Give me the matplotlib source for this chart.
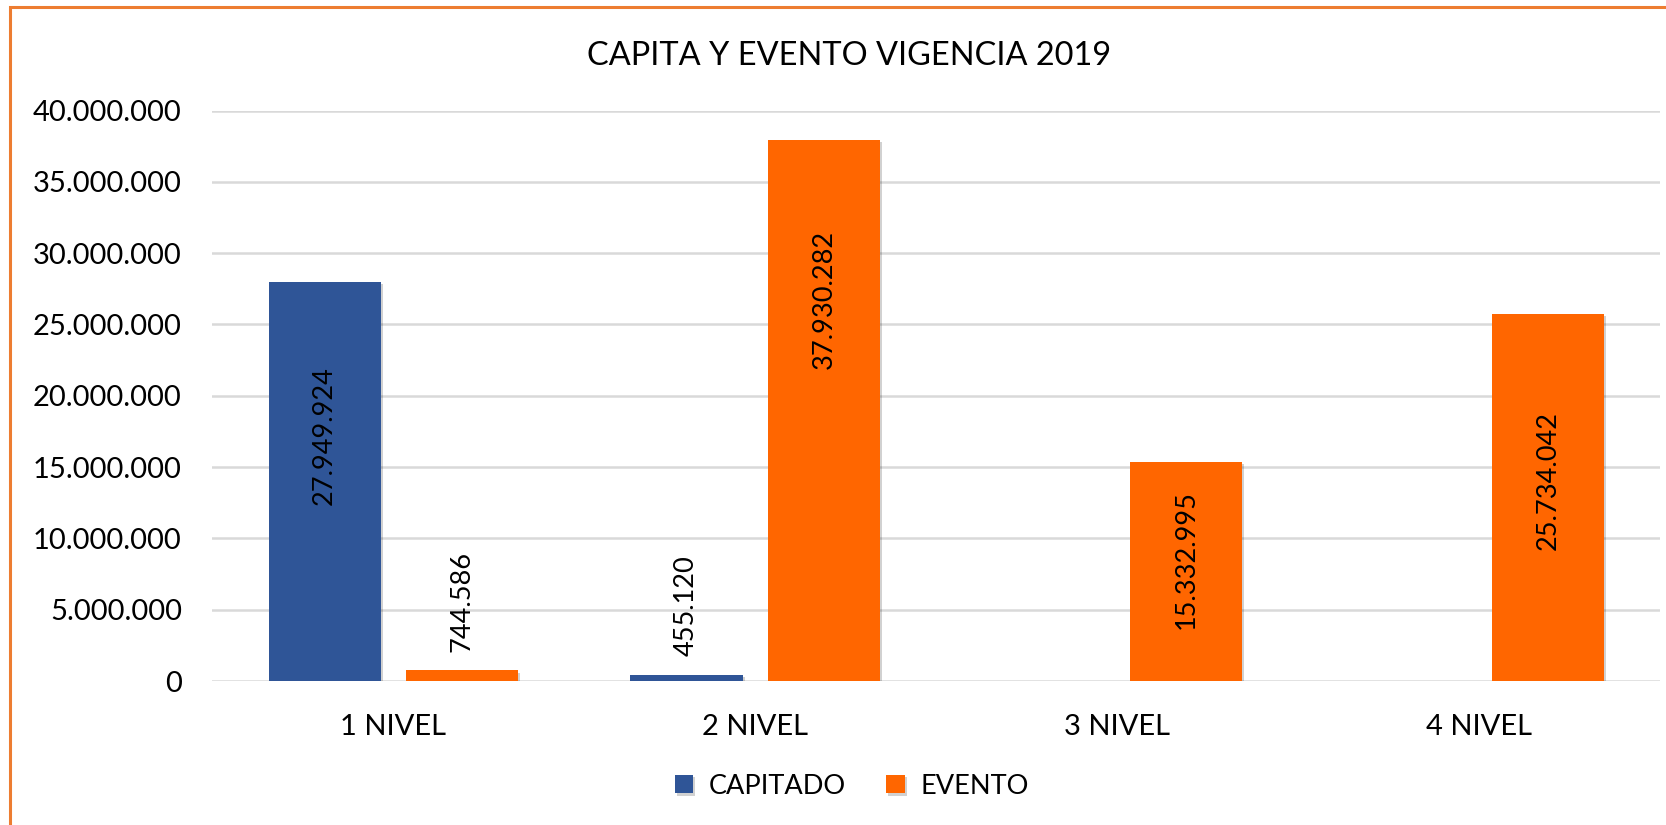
import numpy as np
import matplotlib
matplotlib.use("Agg")
import matplotlib.pyplot as plt
import matplotlib.patheffects as pe
from matplotlib.patches import Rectangle
from matplotlib.ticker import FuncFormatter, MultipleLocator

plt.rcParams['font.family'] = ['Lato', 'DejaVu Sans']

# datos
categorias = ["1 NIVEL", "2 NIVEL", "3 NIVEL", "4 NIVEL"]
capitado = [27949924, 455120, np.nan, np.nan]
evento = [744586, 37930282, 15332995, 25734042]
series_nombres = ["CAPITADO", "EVENTO"]

# estilo
AZUL = "#2F5597"
NARANJA = "#FF6600"
BORDE = "#ED7D31"
GRIS = "#D9D9D9"
FS = 21
FS_DATOS = 19.5

def miles(v, pos=None):
	return "{:,.0f}".format(v).replace(",", ".")

fig = plt.figure(figsize=(16.66, 8.25), dpi=100)
ax = fig.add_axes([0.1275, 0.1745, 0.869, 0.6915])

x = np.arange(len(categorias))
ancho = 0.31
desp = 0.19
sombra = [pe.SimplePatchShadow(offset=(1.5, -1.5), shadow_rgbFace="black", alpha=0.18), pe.Normal()]
b1 = ax.bar(x - desp, capitado, ancho, color=AZUL, label=series_nombres[0], zorder=3)
b2 = ax.bar(x + desp, evento, ancho, color=NARANJA, label=series_nombres[1], zorder=3)
for r in list(b1) + list(b2):
	r.set_path_effects(sombra)

# etiquetas de datos: las grandes dentro de la barra, las pequeñas encima
frac_cap = [0.617, None, None, None]
frac_evt = [None, 0.706, 0.557, 0.547]
for barras, fracs in ((b1, frac_cap), (b2, frac_evt)):
	for rect, fr in zip(barras, fracs):
		h = rect.get_height()
		if np.isnan(h):
			continue
		cx = rect.get_x() + rect.get_width() / 2
		if fr is not None:
			ax.text(cx, h * fr, miles(h), rotation=90, ha="center", va="center",
					fontsize=FS_DATOS, color="black", zorder=4)
		else:
			ax.annotate(miles(h), (cx, h), xytext=(0, 13), textcoords="offset points",
						rotation=90, ha="center", va="bottom", fontsize=FS_DATOS, color="black")

ax.set_xlim(-0.5, len(categorias) - 0.5)
ax.set_ylim(0, 40000000)
ax.yaxis.set_major_locator(MultipleLocator(5000000))
ax.yaxis.set_major_formatter(FuncFormatter(miles))
ax.set_xticks(x)
ax.set_xticklabels(categorias)
ax.tick_params(axis="both", length=0, labelsize=FS, colors="black")
ax.tick_params(axis="y", pad=22)
ax.tick_params(axis="x", pad=24)
ax.grid(axis="y", color=GRIS, lw=1.8, zorder=0)
for s in ax.spines.values():
	s.set_visible(False)

fig.text(0.5096, 0.9212, "CAPITA Y EVENTO VIGENCIA 2019", ha="center", va="baseline", fontsize=23.4)

fig.legend(handles=[b1, b2], loc="center", bbox_to_anchor=(0.5114, 0.047), ncol=2,
		   frameon=False, fontsize=19.5, handlelength=0.67, handleheight=0.67,
		   handletextpad=0.6, columnspacing=1.48)

# borde naranja del marco del gráfico
fig.patches.append(Rectangle((10 / 1666, -0.1), 1.2, 1.1 - 7 / 825, transform=fig.transFigure,
							 fill=False, edgecolor=BORDE, lw=2.2, zorder=10))

fig.savefig("out.png", dpi=100)
